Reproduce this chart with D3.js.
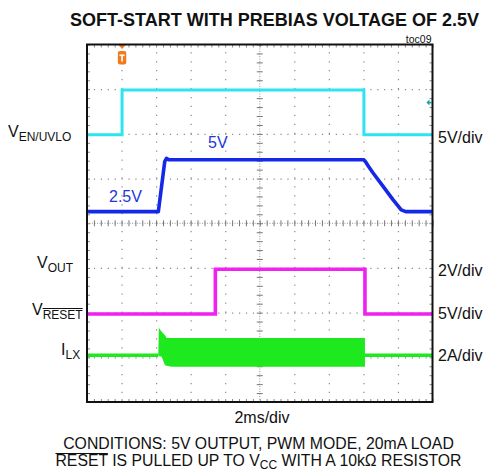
<!DOCTYPE html>
<html>
<head>
<meta charset="utf-8">
<script src="https://cdn.jsdelivr.net/npm/d3@7"></script>
<style>
  body { margin: 0; background: #fff; }
  svg text { font-family: "Liberation Sans", Arial, sans-serif; fill: #111; }
</style>
</head>
<body>
<svg id="chart"></svg>
<script>
// --------------------
// Data: time in ms (2ms/div), level in divisions from screen centre
// --------------------
const enTime   = [0, 2.03, 2.03, 16.03, 16.03, 20];
const enLevel  = [1.98, 1.98, 2.98, 2.98, 1.98, 1.98];

const voutTime  = [0, 4.13, 4.5, 4.6, 4.75, 16.03, 16.15, 16.3, 16.55, 17.13, 17.71, 18.19, 18.45, 20];
const voutLevel = [0.26, 0.26, 1.38, 1.45, 1.42, 1.42, 1.36, 1.27, 1.13, 0.83, 0.53, 0.3, 0.26, 0.26];

const resetTime  = [0, 7.43, 7.43, 16.09, 16.09, 20];
const resetLevel = [-2.03, -2.03, -1.03, -1.03, -2.03, -2.03];

// inductor current: idle baseline + switching envelope
const ilxIdleTime  = [[0, 4.13], [16.09, 20]];
const ilxIdleLevel = -2.955;
const ilxBandTime = [4.13, 4.16, 4.32, 4.51, 4.61, 4.9, 16.09];
const ilxBandTop  = [-2.9, -2.34, -2.43, -2.5, -2.57, -2.57, -2.57];
const ilxBandBot  = [-2.96, -2.97, -2.99, -3.17, -3.19, -3.21, -3.21];

const trigTime = 2.03;
const enRefLevel = 2.7;

const leftLabels = [
  { main: "V", sub: "EN/UVLO", x: 8,  y: 137 },
  { main: "V", sub: "OUT",     x: 37, y: 268 },
  { main: "V", sub: "RESET",   x: 32, y: 315, bar: true },
  { main: "I", sub: "LX",      x: 61, y: 355 }
];
const rightLabels = [
  { text: "5V/div", y: 143 },
  { text: "2V/div", y: 276 },
  { text: "5V/div", y: 319 },
  { text: "2A/div", y: 361 }
];

// --------------------
// Basic setup
// --------------------
const width = 488;
const height = 476;
const plot = { left: 87, right: 432.5, top: 44.5, bottom: 402 };

const svg = d3.select("#chart")
  .attr("width", width)
  .attr("height", height);

svg.append("rect").attr("width", width).attr("height", height).attr("fill", "#fff");

const x = d3.scaleLinear().domain([0, 20]).range([plot.left, plot.right]);
const y = d3.scaleLinear().domain([-4, 4]).range([plot.bottom, plot.top]);

const plotW = plot.right - plot.left;
const plotH = plot.bottom - plot.top;
const minorT = d3.range(51).map(i => i * 0.4);
const minorV = d3.range(41).map(i => -4 + i * 0.2);
const majorT = [2, 4, 6, 8, 12, 14, 16, 18];
const majorV = [-3, -2, -1, 1, 2, 3];

const clean = g => g.call(s => s.select(".domain").remove());

// --------------------
// Graticule
// --------------------
const dotV = x(0.4) - x(0);
const dotH = y(0) - y(0.2);

svg.append("g")
  .attr("transform", `translate(0,${y(-4)})`)
  .call(d3.axisBottom(x).tickValues(majorT).tickSize(-plotH).tickFormat(""))
  .call(clean)
  .selectAll("line")
    .attr("stroke", "#8a8a8a")
    .attr("stroke-width", 1.2)
    .attr("stroke-dasharray", `1.2 ${dotH - 1.2}`);

svg.append("g")
  .attr("transform", `translate(${x(0)},0)`)
  .call(d3.axisLeft(y).tickValues(majorV).tickSize(-plotW).tickFormat(""))
  .call(clean)
  .selectAll("line")
    .attr("stroke", "#8a8a8a")
    .attr("stroke-width", 1.2)
    .attr("stroke-dasharray", `1.2 ${dotV - 1.2}`);

// centre cross
svg.append("line")
  .attr("x1", x(0)).attr("x2", x(20)).attr("y1", y(0)).attr("y2", y(0))
  .attr("stroke", "#999").attr("stroke-dasharray", "1 1.5");
svg.append("line")
  .attr("x1", x(10)).attr("x2", x(10)).attr("y1", y(-4)).attr("y2", y(4))
  .attr("stroke", "#999").attr("stroke-dasharray", "1 1.5");

svg.append("g")
  .attr("transform", `translate(0,${y(0) - 3})`)
  .call(d3.axisBottom(x).tickValues(minorT).tickSize(6).tickFormat(""))
  .call(clean)
  .selectAll("line").attr("stroke", "#777");

svg.append("g")
  .attr("transform", `translate(${x(10) - 3},0)`)
  .call(d3.axisRight(y).tickValues(minorV).tickSize(6).tickFormat(""))
  .call(clean)
  .selectAll("line").attr("stroke", "#777");

// edge ticks (inside the frame)
const edge = [
  [d3.axisBottom(x).tickValues(minorT), `translate(0,${y(4)})`],
  [d3.axisTop(x).tickValues(minorT), `translate(0,${y(-4)})`],
  [d3.axisRight(y).tickValues(minorV), `translate(${x(0)},0)`],
  [d3.axisLeft(y).tickValues(minorV), `translate(${x(20)},0)`]
];
edge.forEach(([ax, tr]) => {
  svg.append("g")
    .attr("transform", tr)
    .call(ax.tickSize(3).tickFormat(""))
    .call(clean)
    .selectAll("line").attr("stroke", "#888");
});

// --------------------
// Traces
// --------------------
const line = d3.line().x(d => x(d[0])).y(d => y(d[1]));
const zip = (a, b) => a.map((v, i) => [v, b[i]]);

svg.append("path")
  .attr("d", line(zip(enTime, enLevel)))
  .attr("fill", "none").attr("stroke", "#2ee4f0").attr("stroke-width", 3);

svg.append("path")
  .attr("d", line(zip(voutTime, voutLevel)))
  .attr("fill", "none").attr("stroke", "#1428e8").attr("stroke-width", 3.6)
  .attr("stroke-linejoin", "round");

svg.append("path")
  .attr("d", line(zip(resetTime, resetLevel)))
  .attr("fill", "none").attr("stroke", "#f022f0").attr("stroke-width", 3.6);

ilxIdleTime.forEach(seg => {
  svg.append("path")
    .attr("d", line(seg.map(t => [t, ilxIdleLevel])))
    .attr("fill", "none").attr("stroke", "#1ee81e").attr("stroke-width", 3.5);
});

const band = d3.area()
  .x(d => x(d.t))
  .y0(d => y(d.lo))
  .y1(d => y(d.hi));

svg.append("path")
  .attr("d", band(ilxBandTime.map((t, i) => ({ t, hi: ilxBandTop[i], lo: ilxBandBot[i] }))))
  .attr("fill", "#1ee81e");

// --------------------
// Markers
// --------------------
const tx = x(trigTime);
svg.append("path")
  .attr("d", `M${tx - 4},${y(4)}L${tx + 4},${y(4)}L${tx},${y(4) + 4.5}Z`)
  .attr("fill", "#f07a1c");
svg.append("rect")
  .attr("x", tx - 4.2).attr("y", 51).attr("width", 8.4).attr("height", 13.5)
  .attr("rx", 2).attr("fill", "#f07a1c");
svg.append("rect").attr("x", tx - 2.6).attr("y", 54.5).attr("width", 5.2).attr("height", 1.6).attr("fill", "#fff");
svg.append("rect").attr("x", tx - 0.8).attr("y", 54.5).attr("width", 1.6).attr("height", 7).attr("fill", "#fff");

const ry = y(enRefLevel);
svg.append("path")
  .attr("d", `M${x(20) - 6},${ry}L${x(20) - 3},${ry - 3}L${x(20) - 3},${ry + 3}Z`)
  .attr("fill", "#0aa6a6");
svg.append("line")
  .attr("x1", x(20) - 4).attr("x2", x(20) - 1).attr("y1", ry).attr("y2", ry)
  .attr("stroke", "#0aa6a6").attr("stroke-width", 1.5);

// frame
svg.append("rect")
  .attr("x", plot.left).attr("y", plot.top).attr("width", plotW).attr("height", plotH)
  .attr("fill", "none").attr("stroke", "#111").attr("stroke-width", 2);

// --------------------
// Text
// --------------------
svg.append("text")
  .attr("x", 274.5).attr("y", 26).attr("text-anchor", "middle")
  .attr("font-size", 18).attr("font-weight", "bold")
  .text("SOFT-START WITH PREBIAS VOLTAGE OF 2.5V");

svg.append("text")
  .attr("x", 431.5).attr("y", 42.5).attr("text-anchor", "end")
  .attr("font-size", 10.5)
  .text("toc09");

svg.append("text").attr("x", 208).attr("y", 148).attr("font-size", 16)
  .style("fill", "#2236e0").text("5V");
svg.append("text").attr("x", 109).attr("y", 202).attr("font-size", 16)
  .style("fill", "#2236e0").text("2.5V");

leftLabels.forEach(d => {
  const t = svg.append("text").attr("x", d.x).attr("y", d.y).attr("font-size", 16);
  t.append("tspan").text(d.main);
  t.append("tspan").attr("dy", 3.5).attr("font-size", 12).text(d.sub);
  if (d.bar) {
    const a = t.node().getExtentOfChar(1);
    const b = t.node().getExtentOfChar(d.sub.length);
    svg.append("line")
      .attr("x1", a.x).attr("x2", b.x + b.width)
      .attr("y1", a.y + 1).attr("y2", a.y + 1)
      .attr("stroke", "#111").attr("stroke-width", 1);
  }
});

rightLabels.forEach(d => {
  svg.append("text").attr("x", 438).attr("y", d.y).attr("font-size", 16).text(d.text);
});

svg.append("text")
  .attr("x", 262).attr("y", 423).attr("text-anchor", "middle").attr("font-size", 16)
  .text("2ms/div");

svg.append("text")
  .attr("x", 258.5).attr("y", 449).attr("text-anchor", "middle").attr("font-size", 15.8)
  .text("CONDITIONS: 5V OUTPUT, PWM MODE, 20mA LOAD");

const cond2 = svg.append("text")
  .attr("x", 258.5).attr("y", 466).attr("text-anchor", "middle").attr("font-size", 15.8);
cond2.append("tspan").text("RESET IS PULLED UP TO V");
cond2.append("tspan").attr("dy", 3).attr("font-size", 12).text("CC");
cond2.append("tspan").attr("dy", -3).text(" WITH A 10k\u03A9 RESISTOR");

const r0 = cond2.node().getExtentOfChar(0);
const r4 = cond2.node().getExtentOfChar(4);
svg.append("line")
  .attr("x1", r0.x).attr("x2", r4.x + r4.width)
  .attr("y1", r0.y + 1.5).attr("y2", r0.y + 1.5)
  .attr("stroke", "#111").attr("stroke-width", 1);
</script>
</body>
</html>
